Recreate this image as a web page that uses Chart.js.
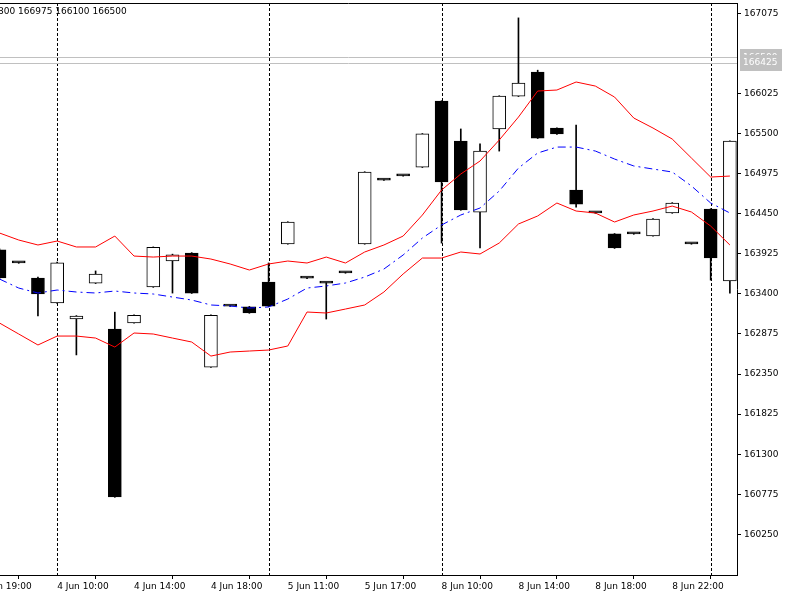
<!DOCTYPE html>
<html>
<head>
<meta charset="utf-8">
<script src="https://cdn.jsdelivr.net/npm/chart.js@4.4.0/dist/chart.umd.min.js"></script>
<style>
    html, body { margin: 0; padding: 0; background: #fff; overflow: hidden; }
    #wrap { position: absolute; left: -40px; top: 0; width: 840px; height: 600px; }
</style>
</head>
<body>
<div id="wrap"><canvas id="chart" width="840" height="600"></canvas></div>
<script>
// Velas horarias (índice de barra 0..38)
const open  = [163975,163805,163605,163280,163070,163540,162940,163020,163490,163830,163935,162440,163240,163230,163555,164055,163605,163540,163675,164055,164890,164945,165060,165925,165400,164470,165560,165990,166305,165570,164760,164460,164185,164185,164160,164460,164055,164510,163570];
const high  = [163990,163810,163620,163815,163115,163700,163160,163125,164015,163920,163940,163125,163245,163235,163805,164345,163610,163545,163680,165000,164895,164950,165500,165930,165560,165365,165995,167015,166330,165575,165610,164465,164190,164190,164385,164595,164060,164515,165405];
const low   = [163600,163800,163110,163275,162600,163535,160735,163015,163485,163410,163405,162435,163235,163145,163235,164050,163600,163070,163670,164050,164885,164940,165055,164065,164495,164000,165270,165985,165435,165490,164535,164455,163995,164180,164155,164455,164050,163580,163410];
const close = [163610,163805,163400,163805,163110,163660,160740,163120,164010,163910,163410,163120,163240,163150,163240,164340,163605,163540,163675,164995,164890,164945,165495,164865,164500,165270,165990,166160,165440,165495,164575,164460,164000,164185,164380,164590,164055,163870,165400];

// Bandas de Bollinger
const upper  = [164197,164105,164040,164092,164014,164014,164157,163895,163882,163895,163895,163856,163791,163712,163791,163830,163804,163882,163804,163948,164040,164157,164432,164760,164970,165140,165415,165716,166057,166070,166175,166122,165978,165703,165572,165428,165179,164930,164943];
const middle = [163594,163476,163411,163450,163424,163411,163437,163411,163398,163358,163319,163254,163241,163214,163228,163332,163476,163503,163542,163620,163725,163909,164131,164302,164433,164524,164747,165048,165245,165323,165323,165271,165166,165075,165035,164996,164813,164590,164459];
const lower  = [163018,162874,162730,162847,162847,162821,162703,162887,162874,162821,162769,162585,162638,162651,162664,162717,163162,163149,163201,163254,163424,163660,163869,163869,163948,163922,164066,164315,164420,164590,164485,164459,164341,164433,164485,164550,164472,164288,164040];

// Ejes
const tickPos    = [-1, 3, 7, 11, 15, 19, 23, 27, 31, 35];
const tickLabels = ['3 Jun 19:00', '4 Jun 10:00', '4 Jun 14:00', '4 Jun 18:00', '5 Jun 11:00', '5 Jun 17:00', '8 Jun 10:00', '8 Jun 14:00', '8 Jun 18:00', '8 Jun 22:00'];
const priceTicks = [167075, 166025, 165500, 164975, 164450, 163925, 163400, 162875, 162350, 161825, 161300, 160775, 160250];
const daySeparators = [3, 14, 23, 37];

const headerText = '166800 166975 166100 166500';
const askPrice = 166500;
const bidPrice = 166425;

const FONT = 'DejaVu Sans';

const overlay = {
    id: 'overlay',
    beforeDatasetsDraw(chart) {
        const { ctx, chartArea: a, scales: { x, y } } = chart;
        ctx.save();
        // separadores de día
        ctx.strokeStyle = '#000';
        ctx.lineWidth = 1;
        ctx.setLineDash([3, 2]);
        daySeparators.forEach(i => {
            const px = Math.round(x.getPixelForValue(i)) + 0.5;
            ctx.beginPath();
            ctx.moveTo(px, a.top);
            ctx.lineTo(px, a.bottom);
            ctx.stroke();
        });
        // líneas bid / ask
        ctx.setLineDash([]);
        ctx.strokeStyle = '#c0c0c0';
        [askPrice, bidPrice].forEach(p => {
            const py = Math.round(y.getPixelForValue(p)) + 0.5;
            ctx.beginPath();
            ctx.moveTo(a.left, py);
            ctx.lineTo(a.right, py);
            ctx.stroke();
        });
        ctx.restore();
    },
    afterDraw(chart) {
        const { ctx, chartArea: a, scales: { y } } = chart;
        ctx.save();
        // borde superior
        ctx.strokeStyle = '#000';
        ctx.lineWidth = 1;
        ctx.beginPath();
        ctx.moveTo(a.left, a.top + 0.5);
        ctx.lineTo(a.right, a.top + 0.5);
        ctx.stroke();
        // texto OHLC
        ctx.font = '9px "' + FONT + '"';
        ctx.fillStyle = '#000';
        ctx.textBaseline = 'middle';
        ctx.textAlign = 'left';
        ctx.fillText(headerText, 58 - ctx.measureText('166800 ').width, 12);
        // etiquetas de precio
        [askPrice, bidPrice].forEach(p => {
            const py = y.getPixelForValue(p);
            ctx.fillStyle = '#c0c0c0';
            ctx.fillRect(a.right + 3, Math.round(py - 8), 42, 16);
            ctx.fillStyle = '#fff';
            ctx.fillText(String(p), a.right + 6, py);
        });
        ctx.restore();
    }
};

const toPoints = arr => arr.map((v, i) => ({ x: i, y: v }));

new Chart(document.getElementById('chart'), {
    type: 'bar',
    data: {
        datasets: [
            { type: 'line', label: 'Upper', data: toPoints(upper), borderColor: '#ff0000', borderWidth: 1, pointRadius: 0, tension: 0, order: 0 },
            { type: 'line', label: 'Middle', data: toPoints(middle), borderColor: '#0000ff', borderWidth: 1, borderDash: [8, 4, 2, 4], pointRadius: 0, tension: 0, order: 0 },
            { type: 'line', label: 'Lower', data: toPoints(lower), borderColor: '#ff0000', borderWidth: 1, pointRadius: 0, tension: 0, order: 0 },
            {
                label: 'Body',
                data: open.map((o, i) => ({ x: i, y: [o, close[i]] })),
                backgroundColor: open.map((o, i) => close[i] > o ? '#ffffff' : '#000000'),
                borderColor: '#000',
                borderWidth: 1,
                borderSkipped: false,
                barThickness: 13,
                minBarLength: 2,
                grouped: false,
                order: 1
            },
            {
                label: 'Wick',
                data: low.map((l, i) => ({ x: i, y: [l, high[i]] })),
                backgroundColor: '#000',
                barThickness: 1,
                grouped: false,
                order: 2
            }
        ]
    },
    options: {
        responsive: false,
        animation: false,
        layout: { padding: { top: 3, left: 0, right: 0, bottom: 0 } },
        plugins: { legend: { display: false }, tooltip: { enabled: false } },
        scales: {
            x: {
                type: 'linear',
                min: -2.055,
                max: 38.37,
                offset: false,
                afterBuildTicks: s => { s.ticks = tickPos.map(v => ({ value: v })); },
                afterFit: s => { s.height = 25; s.paddingLeft = 0; s.paddingRight = 0; },
                grid: { display: true, drawOnChartArea: false, drawTicks: true, tickLength: 4, color: '#000' },
                border: { display: true, color: '#000' },
                ticks: {
                    autoSkip: false, maxRotation: 0, minRotation: 0, align: 'start', padding: 2,
                    color: '#000', font: { family: FONT, size: 9 },
                    callback: v => tickLabels[tickPos.indexOf(v)]
                }
            },
            y: {
                position: 'right',
                min: 159717,
                max: 167210,
                afterBuildTicks: s => { s.ticks = priceTicks.map(v => ({ value: v })); },
                afterFit: s => { s.width = 63; s.paddingTop = 0; s.paddingBottom = 0; },
                grid: { display: true, drawOnChartArea: false, drawTicks: true, tickLength: 4, color: '#000' },
                border: { display: true, color: '#000' },
                ticks: {
                    padding: 3, color: '#000', font: { family: FONT, size: 9 },
                    callback: v => String(v)
                }
            }
        }
    },
    plugins: [overlay]
});
</script>
</body>
</html>
